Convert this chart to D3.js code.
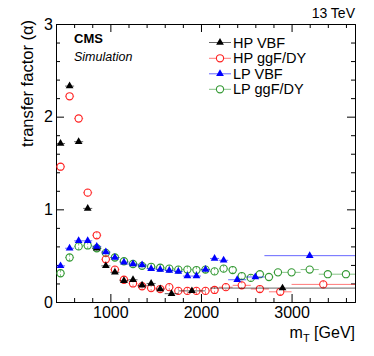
<!DOCTYPE html>
<html>
<head>
    <title>transfer factor vs mT</title>
    <style>
        body { margin: 0; background: #fff; }
        svg text { font-family: "Liberation Sans", Arial, sans-serif; fill: #000; }
        .axis path { stroke: #000; }
        .axis line { stroke: #000; }
    </style>
</head>
<body>
    <div id="chart"></div>

    <script src="https://d3js.org/d3.v7.min.js"></script>
    <script>
        // HP VBF
        const hpVbfMass = [450, 550, 650, 750, 850, 950, 1050, 1150, 1250, 1350, 1450, 1550, 1675, 1900, 2900];
        const hpVbfAlpha = [1.71, 2.33, 1.73, 1.01, 0.58, 0.39, 0.32, 0.23, 0.24, 0.18, 0.20, 0.14, 0.09, 0.12, 0.15];
        const hpVbfErr = [0.06, 0.10, 0.08, 0.05, 0.03, 0.03, 0.02, 0.02, 0.02, 0.02, 0.02, 0.02, 0.02, 0.02, 0.02];
        const hpVbfBin = [50, 50, 50, 50, 50, 50, 50, 50, 50, 50, 50, 50, 75, 150, 800];

        // HP ggF/DY
        const hpGgfMass = [450, 550, 650, 750, 850, 950, 1050, 1150, 1250, 1350, 1450, 1550, 1650, 1750, 1850, 1950, 2050, 2150, 2275, 2450, 2650, 2875, 3350];
        const hpGgfAlpha = [1.46, 2.22, 1.98, 1.18, 0.72, 0.46, 0.35, 0.24, 0.20, 0.17, 0.15, 0.14, 0.16, 0.12, 0.12, 0.12, 0.12, 0.13, 0.16, 0.18, 0.14, 0.11, 0.19];
        const hpGgfErr = [0.03, 0.04, 0.04, 0.03, 0.02, 0.02, 0.02, 0.01, 0.01, 0.01, 0.01, 0.01, 0.01, 0.01, 0.01, 0.01, 0.01, 0.01, 0.02, 0.02, 0.02, 0.02, 0.02];
        const hpGgfBin = [50, 50, 50, 50, 50, 50, 50, 50, 50, 50, 50, 50, 50, 50, 50, 50, 50, 50, 75, 100, 100, 125, 350];

        // LP VBF
        const lpVbfMass = [450, 550, 650, 750, 850, 950, 1050, 1150, 1250, 1350, 1450, 1550, 1650, 1750, 1850, 1950, 2050, 2150, 2250, 2400, 2600, 3200];
        const lpVbfAlpha = [0.39, 0.58, 0.66, 0.66, 0.60, 0.54, 0.48, 0.43, 0.41, 0.40, 0.36, 0.35, 0.34, 0.33, 0.28, 0.28, 0.35, 0.47, 0.45, 0.24, 0.27, 0.50];
        const lpVbfErr = [0.02, 0.02, 0.02, 0.02, 0.015, 0.015, 0.015, 0.015, 0.015, 0.015, 0.015, 0.015, 0.02, 0.02, 0.03, 0.03, 0.04, 0.12, 0.13, 0.06, 0.08, 0.13];
        const lpVbfBin = [50, 50, 50, 50, 50, 50, 50, 50, 50, 50, 50, 50, 50, 50, 50, 50, 50, 50, 50, 100, 100, 500];

        // LP ggF/DY
        const lpGgfMass = [450, 550, 650, 750, 850, 950, 1050, 1150, 1250, 1350, 1450, 1550, 1650, 1750, 1850, 1950, 2050, 2150, 2250, 2350, 2450, 2550, 2650, 2750, 2850, 3000, 3200, 3400, 3600];
        const lpGgfAlpha = [0.31, 0.48, 0.60, 0.61, 0.58, 0.53, 0.48, 0.44, 0.41, 0.39, 0.38, 0.37, 0.36, 0.35, 0.35, 0.345, 0.35, 0.33, 0.36, 0.345, 0.28, 0.26, 0.30, 0.27, 0.32, 0.32, 0.35, 0.30, 0.30];
        const lpGgfErr = [0.01, 0.01, 0.01, 0.01, 0.01, 0.01, 0.01, 0.01, 0.01, 0.01, 0.01, 0.01, 0.01, 0.01, 0.01, 0.01, 0.015, 0.015, 0.015, 0.02, 0.02, 0.02, 0.03, 0.03, 0.04, 0.04, 0.04, 0.05, 0.05];
        const lpGgfBin = [50, 50, 50, 50, 50, 50, 50, 50, 50, 50, 50, 50, 50, 50, 50, 50, 50, 50, 50, 50, 50, 50, 50, 50, 50, 100, 100, 100, 100];

        const yTicks = [0, 1, 2, 3];
        const xTicks = [1000, 2000, 3000];

        const width = 374, height = 356;
        const padL = 56, padR = 355, padT = 24, padB = 302;

        const x = d3.scaleLinear().domain([400, 3700]).range([padL, padR]);
        const y = d3.scaleLinear().domain([0, 3]).range([padB, padT]);

        const svg = d3.select("#chart").append("svg")
            .attr("width", width)
            .attr("height", height);

        // axes, ROOT style: ticks inside, mirrored on top and right
        const xMinor = d3.range(400, 3701, 200).filter(v => v % 1000 !== 0);
        const yMinor = d3.range(0, 3.01, 0.2).filter(v => Math.abs(v - Math.round(v)) > 0.01);

        svg.append("g").attr("class", "axis")
            .attr("transform", `translate(0,${padB})`)
            .call(d3.axisBottom(x).tickValues(xTicks).tickSize(-8).tickSizeOuter(0).tickPadding(5).tickFormat(d3.format("d")))
            .call(g => g.selectAll("text").style("font-size", "16px"));
        svg.append("g").attr("class", "axis")
            .attr("transform", `translate(0,${padB})`)
            .call(d3.axisBottom(x).tickValues(xMinor).tickSize(-4).tickSizeOuter(0).tickFormat(""));
        svg.append("g").attr("class", "axis")
            .attr("transform", `translate(0,${padT})`)
            .call(d3.axisTop(x).tickValues(xTicks).tickSize(-8).tickSizeOuter(0).tickFormat(""));
        svg.append("g").attr("class", "axis")
            .attr("transform", `translate(0,${padT})`)
            .call(d3.axisTop(x).tickValues(xMinor).tickSize(-4).tickSizeOuter(0).tickFormat(""));

        svg.append("g").attr("class", "axis")
            .attr("transform", `translate(${padL},0)`)
            .call(d3.axisLeft(y).tickValues(yTicks).tickSize(-8).tickSizeOuter(0).tickPadding(3).tickFormat(d3.format("d")))
            .call(g => g.selectAll("text").style("font-size", "16px"));
        svg.append("g").attr("class", "axis")
            .attr("transform", `translate(${padL},0)`)
            .call(d3.axisLeft(y).tickValues(yMinor).tickSize(-4).tickSizeOuter(0).tickFormat(""));
        svg.append("g").attr("class", "axis")
            .attr("transform", `translate(${padR},0)`)
            .call(d3.axisRight(y).tickValues(yTicks).tickSize(-8).tickSizeOuter(0).tickFormat(""));
        svg.append("g").attr("class", "axis")
            .attr("transform", `translate(${padR},0)`)
            .call(d3.axisRight(y).tickValues(yMinor).tickSize(-4).tickSizeOuter(0).tickFormat(""));

        // series
        const series = [
            { name: "LP ggF/DY", mass: lpGgfMass, alpha: lpGgfAlpha, err: lpGgfErr, bin: lpGgfBin, color: "#339933", marker: "circle" },
            { name: "HP ggF/DY", mass: hpGgfMass, alpha: hpGgfAlpha, err: hpGgfErr, bin: hpGgfBin, color: "#ff2020", marker: "circle" },
            { name: "HP VBF", mass: hpVbfMass, alpha: hpVbfAlpha, err: hpVbfErr, bin: hpVbfBin, color: "#000000", marker: "triangle" },
            { name: "LP VBF", mass: lpVbfMass, alpha: lpVbfAlpha, err: lpVbfErr, bin: lpVbfBin, color: "#0000ff", marker: "triangle" }
        ];

        const tri = d3.symbol(d3.symbolTriangle, 26);
        const r = 3.6;

        series.forEach(s => {
            const pts = s.mass.map((m, i) => ({ m: m, a: s.alpha[i], e: s.err[i], b: s.bin[i] }));
            const g = svg.append("g");
            const gap = s.marker === "circle" ? r : 0;

            // horizontal bin bars
            g.selectAll(".hbar").data(pts).enter().append("path")
                .attr("d", d => `M${x(d.m - d.b)},${y(d.a)}H${x(d.m) - gap}M${x(d.m) + gap},${y(d.a)}H${x(d.m + d.b)}`)
                .attr("stroke", s.color).attr("stroke-opacity", 0.6).attr("stroke-width", 1).attr("fill", "none");
            // vertical error bars
            g.selectAll(".vbar").data(pts).enter().append("path")
                .attr("d", d => `M${x(d.m)},${y(d.a + d.e)}V${Math.min(y(d.a) - gap, y(d.a + d.e))}M${x(d.m)},${Math.max(y(d.a) + gap, y(d.a - d.e))}V${y(d.a - d.e)}`)
                .attr("stroke", s.color).attr("stroke-opacity", 0.6).attr("stroke-width", 1).attr("fill", "none");

            if (s.marker === "circle") {
                g.selectAll("circle").data(pts).enter().append("circle")
                    .attr("cx", d => x(d.m)).attr("cy", d => y(d.a)).attr("r", r)
                    .attr("fill", "none").attr("stroke", s.color).attr("stroke-width", 1.1);
            } else {
                g.selectAll(".tri").data(pts).enter().append("path")
                    .attr("transform", d => `translate(${x(d.m)},${y(d.a)})`)
                    .attr("d", tri).attr("fill", s.color);
            }
        });

        // legend
        const legendOrder = ["HP VBF", "HP ggF/DY", "LP VBF", "LP ggF/DY"];
        const legendBase = [47.5, 63.3, 78.8, 94.3];
        legendOrder.forEach((name, i) => {
            const s = series.find(d => d.name === name);
            const cy = legendBase[i] - 5;
            svg.append("line")
                .attr("x1", 209).attr("x2", 231).attr("y1", cy).attr("y2", cy)
                .attr("stroke", s.color).attr("stroke-opacity", 0.6);
            if (s.marker === "circle") {
                svg.append("circle").attr("cx", 220).attr("cy", cy).attr("r", r)
                    .attr("fill", "#fff").attr("stroke", s.color).attr("stroke-width", 1.1);
            } else {
                svg.append("path").attr("transform", `translate(220,${cy})`)
                    .attr("d", tri).attr("fill", s.color);
            }
            svg.append("text").attr("x", 233).attr("y", legendBase[i])
                .style("font-size", "14.5px").text(name);
        });

        // labels
        svg.append("text").attr("x", 74).attr("y", 43)
            .style("font-size", "13px").style("font-weight", "bold").text("CMS");
        svg.append("text").attr("x", 74).attr("y", 61)
            .style("font-size", "12.5px").style("font-style", "italic").text("Simulation");
        svg.append("text").attr("x", padR).attr("y", 18)
            .attr("text-anchor", "end").style("font-size", "14px").text("13 TeV");

        svg.append("text")
            .attr("transform", "translate(33,20) rotate(-90)")
            .attr("text-anchor", "end").style("font-size", "16.5px")
            .text("transfer factor (α)");

        const xt = svg.append("text").attr("x", padR).attr("y", 338)
            .attr("text-anchor", "end").style("font-size", "16px");
        xt.append("tspan").text("m");
        xt.append("tspan").attr("dy", 4).style("font-size", "11px").text("T");
        xt.append("tspan").attr("dy", -4).text(" [GeV]");
    </script>
</body>
</html>
